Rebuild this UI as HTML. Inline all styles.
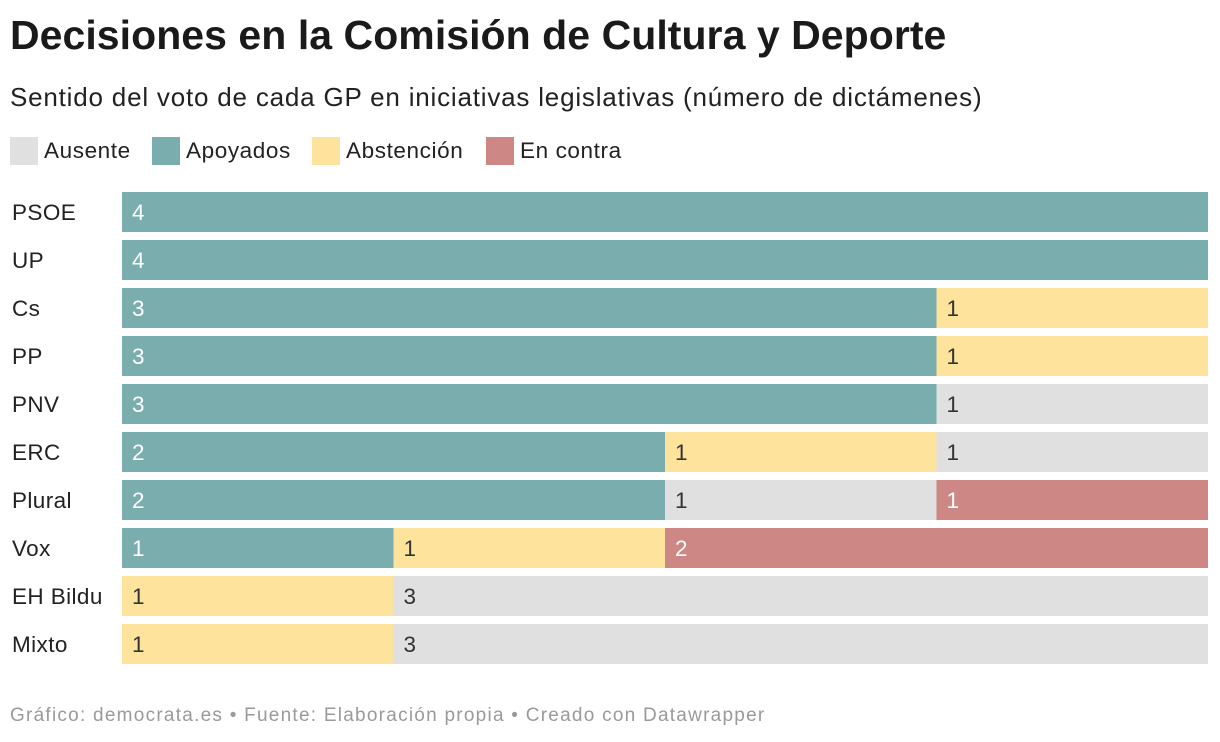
<!DOCTYPE html>
<html><head><meta charset="utf-8">
<style>
body{margin:0;width:1220px;height:742px;background:#fff;font-family:"Liberation Sans",sans-serif;overflow:hidden;position:relative}
h1{position:absolute;left:10px;top:12px;margin:0;font-size:41px;font-weight:bold;color:#1a1a1a;letter-spacing:0.05px}
.sub{position:absolute;left:10px;top:82px;font-size:26px;color:#222;letter-spacing:0.8px}
.leg{position:absolute;top:137px;display:flex;align-items:center;font-size:22.5px;color:#222;letter-spacing:0.6px}
.sw{width:28px;height:28px;margin-right:6px}
.foot{position:absolute;left:10px;top:705px;font-size:19px;color:#9a9a9a;letter-spacing:1.25px}
</style></head><body>
<h1>Decisiones en la Comisión de Cultura y Deporte</h1>
<div class="sub">Sentido del voto de cada GP en iniciativas legislativas (número de dictámenes)</div>
<div class="leg" style="left:10px"><div class="sw" style="background:#e0e0e0"></div>Ausente</div>
<div class="leg" style="left:152px"><div class="sw" style="background:#7aadad"></div>Apoyados</div>
<div class="leg" style="left:312px"><div class="sw" style="background:#fee39c"></div>Abstención</div>
<div class="leg" style="left:486px"><div class="sw" style="background:#cd8785"></div>En contra</div>
<svg id="chart" width="1220" height="742" style="position:absolute;left:0;top:0"></svg>
<div class="foot">Gráfico: democrata.es • Fuente: Elaboración propia • Creado con Datawrapper</div>
<script>
const groups=["PSOE","UP","Cs","PP","PNV","ERC","Plural","Vox","EH Bildu","Mixto"];
const apoyados=[4,4,3,3,3,2,2,1,0,0];
const abstencion=[0,0,1,1,0,1,0,1,1,1];
const ausente=[0,0,0,0,1,1,1,0,3,3];
const enContra=[0,0,0,0,0,0,1,2,0,0];
const series=[["apoyados",apoyados,"#7aadad","#fff"],["abstencion",abstencion,"#fee39c","#333"],["ausente",ausente,"#e0e0e0","#333"],["en-contra",enContra,"#cd8785","#fff"]];
const svg=document.getElementById('chart');const NS="http://www.w3.org/2000/svg";
const x0=122,x1=1208,y0=192,step=48,bh=40;
groups.forEach((g,i)=>{
 const tot=series.reduce((s,a)=>s+a[1][i],0);
 const sx=v=>x0+(x1-x0)*v/tot;
 const y=y0+i*step;
 const t=document.createElementNS(NS,'text');
 
 
 t.setAttribute('x',12);t.setAttribute('y',y+28);t.setAttribute('font-size','22.5');t.setAttribute('letter-spacing','0.4');t.setAttribute('fill','#222');t.textContent=g;svg.appendChild(t);
 let c=0;
 series.forEach(s=>{const v=s[1][i];if(!v)return;
  const r=document.createElementNS(NS,'rect');
  
  
  r.setAttribute('x',sx(c));r.setAttribute('y',y);r.setAttribute('width',sx(c+v)-sx(c));r.setAttribute('height',bh);r.setAttribute('fill',s[2]);svg.appendChild(r);
  const l=document.createElementNS(NS,'text');
  
  
  l.setAttribute('x',sx(c)+10);l.setAttribute('y',y+28);l.setAttribute('font-size','22.5');l.setAttribute('fill',s[3]);l.textContent=v;svg.appendChild(l);
  c+=v;});
});
</script>
</body></html>
